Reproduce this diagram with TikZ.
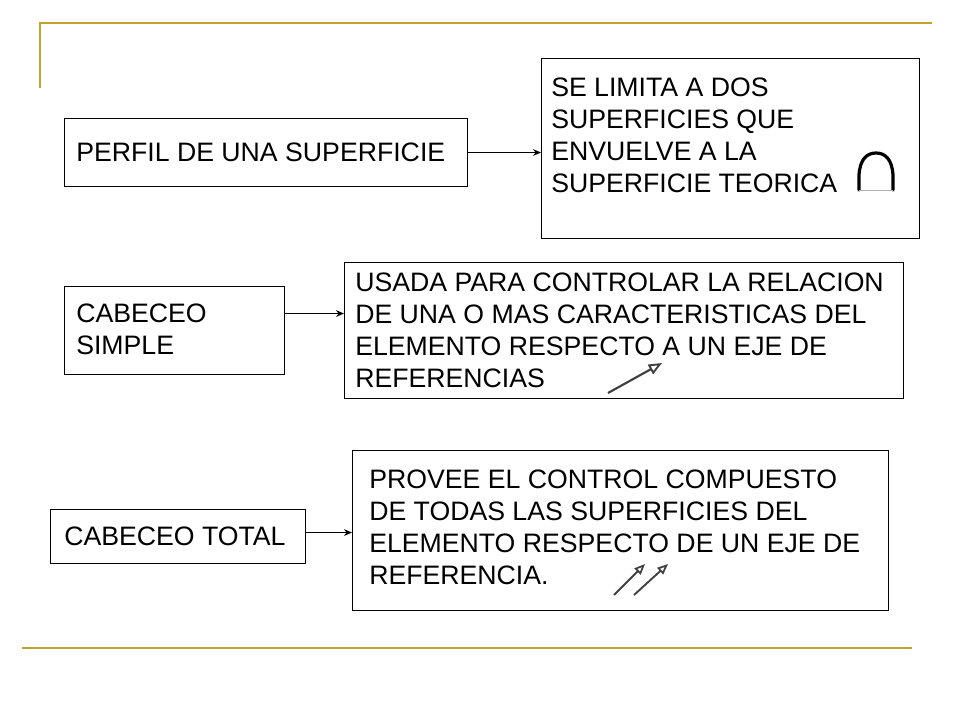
\documentclass[tikz,border=0pt]{standalone}
\usepackage{fontspec}
\setmainfont{Liberation Sans}
\usetikzlibrary{arrows.meta,calc}
\definecolor{gold}{RGB}{196,160,40}
\definecolor{icon}{RGB}{64,64,64}
\tikzset{
  box/.style={draw=black,line width=0.8pt,anchor=north west,inner sep=0pt},
  txt/.style={anchor=north west,inner sep=0pt,align=left,font=\fontsize{20pt}{24pt}\selectfont},
  arr/.style={draw=black,line width=0.8pt,-{Stealth[length=6pt,width=5pt]}},
  goldline/.style={draw=gold,line width=2.2pt},
  iconarrow/.style={draw=icon,line width=1.6pt,-{Triangle[open,length=10pt,width=8pt,line width=1.4pt]}},
  iconarrowsmall/.style={draw=icon,line width=1.4pt,-{Triangle[open,length=8pt,width=6.5pt,line width=1.3pt]}}
}
\begin{document}
\begin{tikzpicture}[x=0.75pt,y=-0.75pt]
\useasboundingbox (0,0) rectangle (960,720);
% decorative lines
\draw[goldline] (40,23) -- (932,23);
\draw[draw=gold,line width=1.6pt] (40,22) -- (40,88);
\draw[goldline] (22,648) -- (912,648);
% boxes
\node[box,minimum width={403*0.75pt},minimum height={68*0.75pt}] (b1) at (64,118) {};
\node[box,minimum width={378*0.75pt},minimum height={180*0.75pt}] (b2) at (541,58) {};
\node[box,minimum width={220*0.75pt},minimum height={88*0.75pt}] (b3) at (64,286) {};
\node[box,minimum width={559*0.75pt},minimum height={136*0.75pt}] (b4) at (344,262) {};
\node[box,minimum width={255*0.75pt},minimum height={54*0.75pt}] (b5) at (50,509) {};
\node[box,minimum width={536*0.75pt},minimum height={160*0.75pt}] (b6) at (352,450) {};
% texts
\node[txt] (t1) at (76,143) {PERFIL DE UNA SUPERFICIE};
\node[txt] (t2) at (551,78) {SE LIMITA A DOS\\SUPERFICIES QUE\\ENVUELVE A LA\\SUPERFICIE TEORICA};
\node[txt] (t3) at (76,304) {CABECEO\\SIMPLE};
\node[txt] (t4) at (355,273) {USADA PARA CONTROLAR LA RELACION\\DE UNA O MAS CARACTERISTICAS DEL\\ELEMENTO RESPECTO A UN EJE DE\\REFERENCIAS};
\node[txt] (t5) at (64,527) {CABECEO TOTAL};
\node[txt] (t6) at (369,470) {PROVEE EL CONTROL COMPUESTO\\DE TODAS LAS SUPERFICIES DEL\\ELEMENTO RESPECTO DE UN EJE DE\\REFERENCIA.};
% connectors
\draw[arr] (b1.east) -- (b2.west |- b1.east);
\draw[arr] ([yshift=12.75pt]b3.east) -- ([yshift=12.75pt]b4.west);
\draw[arr] ([yshift=3pt]b5.east) -- ([yshift=3pt]b6.west |- b5.east);
% icons
\draw[line width=2.4pt,line join=round,line cap=round] (859,190) -- (859,175) .. controls (860,159) and (867,153) .. (876,153) .. controls (885,153) and (892,159) .. (893,175) -- (893,190);
\draw[line width=0.6pt,draw=black!30] (859,190) -- (893,190);
\draw[iconarrow] (608,393) -- (662,363);
\draw[iconarrowsmall] (614,595) -- (645,564);
\draw[iconarrowsmall] (634,595) -- (668,564);
\end{tikzpicture}
\end{document}
